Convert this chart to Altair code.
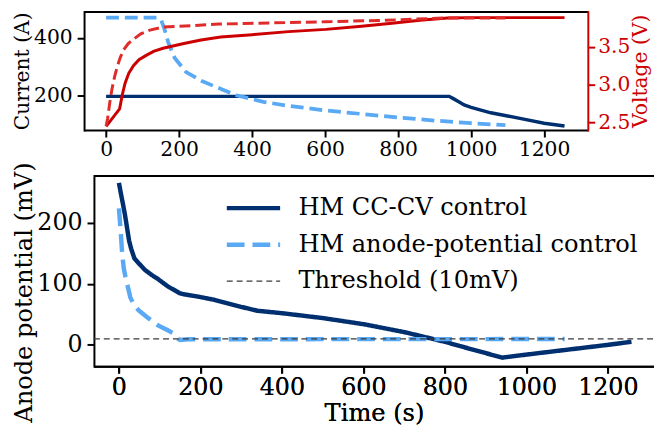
import altair as alt
import pandas as pd

# ---------------- data ----------------
# top panel, left axis: current (A)
t_cur_cccv = [0, 940, 950, 965, 981, 1000, 1054, 1100, 1144, 1200, 1256]
cur_cccv = [197, 197, 190, 179, 167, 159, 140, 129, 118, 104, 94]
t_cur_apc = [0, 140, 151, 160, 170, 188, 219, 264, 318, 359, 431, 500, 602, 700, 800, 900, 1000, 1094]
cur_apc = [470, 470, 461, 430, 385, 330, 281, 249, 221, 200, 178, 164, 148, 136, 124, 113, 104, 97]

# top panel, right axis: voltage (V)
t_volt_cccv = [0, 37, 45, 52, 62, 75, 90, 111, 130, 156, 210, 260, 314, 400, 500, 602, 700, 783, 860, 936, 1000, 1256]
volt_cccv = [2.45, 2.68, 2.88, 3.02, 3.15, 3.25, 3.33, 3.39, 3.44, 3.48, 3.54, 3.59, 3.63, 3.66, 3.70, 3.73, 3.77, 3.81, 3.85, 3.88, 3.885, 3.885]
t_volt_apc = [0, 4, 10, 16, 23, 30, 39, 48, 60, 75, 95, 120, 156, 237, 309, 450, 602, 765, 927, 1094]
volt_apc = [2.45, 2.55, 2.76, 2.94, 3.10, 3.23, 3.36, 3.46, 3.54, 3.60, 3.67, 3.72, 3.76, 3.78, 3.80, 3.815, 3.83, 3.85, 3.88, 3.88]

# bottom panel: anode potential (mV)
t_an_cccv = [0, 5, 10, 15, 20, 25, 30, 38, 50, 64, 80, 96, 120, 149, 160, 196, 234, 290, 340, 400,
             500, 600, 700, 750, 800, 848, 941, 1000, 1100, 1200, 1258]
an_cccv = [266, 248, 231, 213, 192, 171, 158, 142, 133, 123, 115, 108, 96, 85, 83, 79, 74, 64, 56, 52,
           44, 34, 21, 13, 5, -4, -21, -16, -8, 0, 5]
t_an_apc = [0, 4, 8, 12, 16, 22, 28, 35, 44, 48, 70, 96, 120, 133, 145, 150, 170, 1094]
an_apc = [224, 190, 150, 125, 112, 95, 78, 68, 60, 57, 45, 32, 24, 19, 10, 8, 9.3, 9.5]
threshold_mv = [10]

series_names = ["HM CC-CV control", "HM anode-potential control", "Threshold (10mV)"]
x_tick_values = [0, 200, 400, 600, 800, 1000, 1200]
cur_tick_values = [200, 400]
volt_tick_values = [2.5, 3.0, 3.5]
an_tick_values = [0, 100, 200]

# axis limits (as in the reference)
time_limits_top = [-60.4, 1319.8]
time_limits_bottom = [-61.3, 1313.3]
cur_limits = [80, 491]
volt_limits = [2.40, 3.965]
an_limits = [-35, 278]

# ---------------- layout (pixels inside the drawing) ----------------
W, H = 654, 422
TOP_X = [77, 587]      # top panel frame, left/right
TOP_Y = [121, 1]       # top panel frame, bottom/top
BOT_X = [87, 654]
BOT_Y = [360, 167]

FONT = "DejaVu Serif"
NAVY = "#002f6f"
LBLUE = "#5aa9f4"
RED = "#cc0000"
RED_D = "#e02b2b"
THR = "#3a3a3a"
TOP_FS = 20.5
BOT_FS = 24
BOT_TITLE_FS = 24.4


def frame(t, v, name=None):
    d = pd.DataFrame({"t": t, "v": v})
    if name is not None:
        d["series"] = name
    return d


common = dict(grid=False, domainWidth=2, tickWidth=2, titleFontWeight="normal",
              labelFont=FONT, titleFont=FONT)
black = dict(domainColor="black", tickColor="black", labelColor="black", titleColor="black")

x_top_scale = alt.Scale(domain=time_limits_top, range=TOP_X, nice=False, zero=False)
cur_scale = alt.Scale(domain=cur_limits, range=TOP_Y, nice=False, zero=False)
volt_scale = alt.Scale(domain=volt_limits, range=TOP_Y, nice=False, zero=False)
x_bot_scale = alt.Scale(domain=time_limits_bottom, range=BOT_X, nice=False, zero=False)
an_scale = alt.Scale(domain=an_limits, range=BOT_Y, nice=False, zero=False)

x_top_axis = alt.Axis(orient="bottom", offset=-(H - TOP_Y[0]), values=x_tick_values, format="d",
                      title=None, labelFontSize=TOP_FS, tickSize=7, labelPadding=3, domainCap="butt",
                      **black, **common)
top_frame_axis = alt.Axis(orient="top", offset=-TOP_Y[1], labels=False, ticks=False, title=None,
                          domainCap="butt", **black, **common)
cur_axis = alt.Axis(orient="left", offset=-TOP_X[0], values=cur_tick_values, format="d",
                    title="Current (A)", titleFontSize=TOP_FS, labelFontSize=TOP_FS, tickSize=7,
                    labelPadding=5, minExtent=50, maxExtent=50, titlePadding=2, domainCap="square",
                    **black, **common)
volt_axis = alt.Axis(orient="right", offset=-(W - TOP_X[1]), values=volt_tick_values, format=".1f",
                     title="Voltage (V)", titleFontSize=TOP_FS, labelFontSize=TOP_FS, tickSize=7,
                     labelPadding=3, titlePadding=1, titleAngle=270, titleBaseline="top",
                     domainCap="square", domainColor=RED, tickColor=RED, labelColor=RED,
                     titleColor=RED, **common)
x_bot_axis = alt.Axis(orient="bottom", offset=-(H - BOT_Y[0]), values=x_tick_values, format="d",
                      title="Time (s)", titleFontSize=BOT_TITLE_FS, labelFontSize=BOT_FS, tickSize=7,
                      labelPadding=3, titlePadding=2, domainCap="butt", **black, **common)
bot_frame_axis = alt.Axis(orient="top", offset=-BOT_Y[1], labels=False, ticks=False, title=None,
                          domainCap="butt", **black, **common)
an_axis = alt.Axis(orient="left", offset=-BOT_X[0], values=an_tick_values, format="d",
                   title="Anode potential (mV)", titleFontSize=BOT_TITLE_FS, labelFontSize=BOT_FS,
                   tickSize=7, labelPadding=5, minExtent=56, maxExtent=56, titlePadding=2, titleY=285,
                   domainCap="square", **black, **common)


def line(df, color, width, dash, xs, xa, ys, ya):
    kw = dict(color=color, strokeWidth=width)
    if dash:
        kw["strokeDash"] = dash
    return alt.Chart(df).mark_line(**kw).encode(
        x=alt.X("t:Q", scale=xs, axis=xa),
        y=alt.Y("v:Q", scale=ys, axis=ya),
    )


# ----- top panel: current (left) and voltage (right) -----
cur_layers = alt.layer(
    line(frame(t_cur_cccv, cur_cccv), NAVY, 3.5, None, x_top_scale, x_top_axis, cur_scale, cur_axis),
    line(frame(t_cur_apc, cur_apc), LBLUE, 3.8, [13, 6], x_top_scale, x_top_axis, cur_scale, cur_axis),
)
volt_layers = alt.layer(
    line(frame(t_volt_cccv, volt_cccv), RED, 3.0, None, x_top_scale, top_frame_axis, volt_scale, volt_axis),
    line(frame(t_volt_apc, volt_apc), RED_D, 3.0, [11, 5], x_top_scale, top_frame_axis, volt_scale, volt_axis),
)
top = alt.layer(cur_layers, volt_layers).resolve_scale(y="independent").resolve_axis(x="independent")

# ----- bottom panel: anode potential -----
legend = alt.Legend(title=None, orient="none", legendX=219, legendY=188, labelFontSize=BOT_TITLE_FS,
                    labelFont=FONT, labelColor="black", labelLimit=0, symbolType="stroke",
                    symbolSize=2916, labelOffset=16, rowPadding=12, clipHeight=24, padding=0)
color_scale = alt.Scale(domain=series_names, range=[NAVY, LBLUE, THR])
dash_scale = alt.Scale(domain=series_names, range=[[1, 0], [18, 8], [6, 4]])
width_scale = alt.Scale(type="ordinal", domain=series_names, range=[4.5, 4.5, 1.3])
legend_enc = dict(
    color=alt.Color("series:N", scale=color_scale, legend=legend),
    strokeDash=alt.StrokeDash("series:N", scale=dash_scale, legend=legend),
    strokeWidth=alt.StrokeWidth("series:N", scale=width_scale, legend=legend),
)

an_cccv_line = alt.Chart(frame(t_an_cccv, an_cccv, series_names[0])).mark_line().encode(
    x=alt.X("t:Q", scale=x_bot_scale, axis=x_bot_axis),
    y=alt.Y("v:Q", scale=an_scale, axis=an_axis), **legend_enc)
an_apc_line = alt.Chart(frame(t_an_apc, an_apc, series_names[1])).mark_line().encode(
    x=alt.X("t:Q", scale=x_bot_scale, axis=bot_frame_axis),
    y=alt.Y("v:Q", scale=an_scale, axis=an_axis), **legend_enc)
thr_df = pd.DataFrame({"v": threshold_mv, "series": [series_names[2]],
                       "t0": [time_limits_bottom[0]], "t1": [time_limits_bottom[1]]})
thr_rule = alt.Chart(thr_df).mark_rule().encode(
    x=alt.X("t0:Q", scale=x_bot_scale, axis=x_bot_axis), x2="t1:Q",
    y=alt.Y("v:Q", scale=an_scale, axis=an_axis), **legend_enc)

bottom = alt.layer(an_cccv_line, an_apc_line, thr_rule).resolve_axis(x="independent")

chart = (
    alt.layer(top, bottom)
    .resolve_scale(x="independent", y="independent")
    .resolve_axis(x="independent", y="independent")
    .properties(width=W, height=H, padding=0,
                autosize=alt.AutoSizeParams(type="none", contains="padding"))
    .configure_view(stroke=None)
)
chart.save("out.html", embed_options={"renderer": "svg", "actions": False})
